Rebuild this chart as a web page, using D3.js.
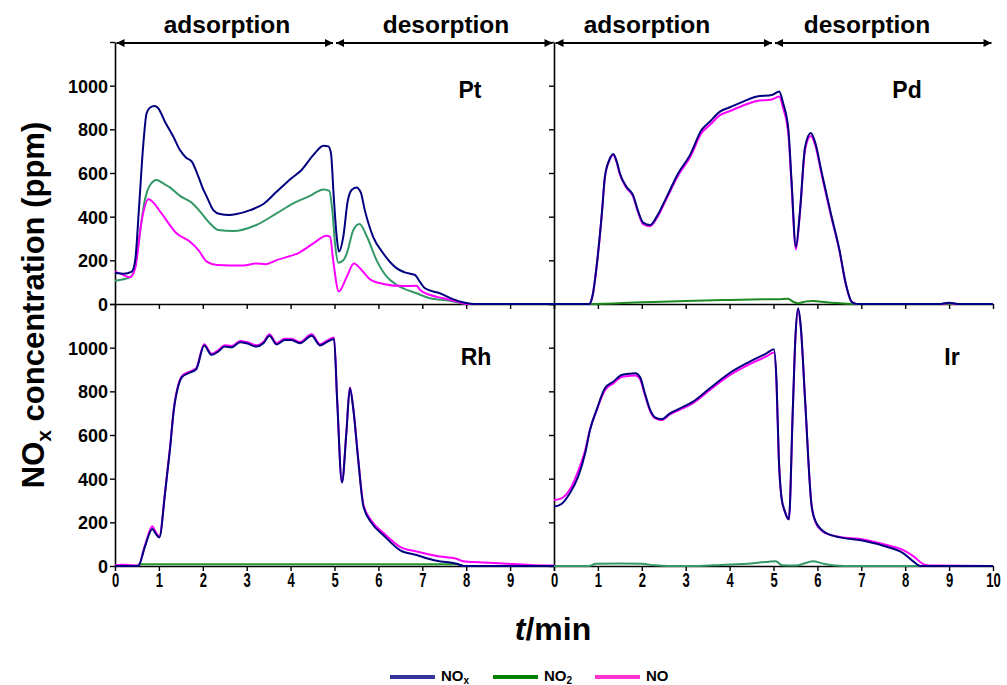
<!DOCTYPE html>
<html><head><meta charset="utf-8">
<script src="https://cdn.jsdelivr.net/npm/d3@7"></script>
<style>
html,body{margin:0;padding:0;background:#fff;}
svg text{font-family:"Liberation Sans",Arial,Helvetica,sans-serif;font-weight:bold;fill:#000;}
</style></head>
<body>
<svg id="c" width="1007" height="685"></svg>
<script>
// ---------- DATA (time in min, concentration in ppm) ----------
const ptNOx = [[0,143],[0.2,138],[0.38,148],[0.46,200],[0.55,450],[0.64,720],[0.72,874],[0.8,900],[0.9,907],[0.98,898],[1.15,830],[1.33,766],[1.48,705],[1.62,670],[1.75,652],[1.9,583],[2.0,530],[2.09,492],[2.24,430],[2.39,412],[2.6,408],[2.77,412],[3.08,430],[3.38,458],[3.68,514],[4.02,576],[4.25,614],[4.52,683],[4.75,725],[4.86,722],[4.92,690],[4.98,500],[5.05,308],[5.1,240],[5.2,308],[5.3,470],[5.39,522],[5.5,534],[5.6,510],[5.69,430],[5.88,308],[6.11,232],[6.42,163],[6.6,145],[6.83,133],[6.95,100],[7.06,72],[7.4,49],[7.71,21],[7.97,6],[8.2,0],[10,0]];
const ptNO2 = [[0,107],[0.34,122],[0.45,160],[0.55,300],[0.68,476],[0.8,545],[0.95,568],[1.1,552],[1.25,534],[1.48,495],[1.75,464],[1.94,423],[2.16,370],[2.35,339],[2.69,334],[3.22,362],[3.68,415],[4.06,461],[4.44,495],[4.75,525],[4.88,518],[4.95,430],[5.02,260],[5.09,189],[5.2,200],[5.28,232],[5.43,339],[5.57,366],[5.74,308],[5.96,200],[6.19,125],[6.42,87],[6.87,49],[7.18,26],[7.63,15],[7.93,2],[8.1,0],[10,0]];
const ptNO = [[0,148],[0.11,140],[0.34,122],[0.46,165],[0.61,385],[0.76,480],[0.83,473],[1.06,415],[1.4,324],[1.71,285],[1.9,247],[2.09,194],[2.32,179],[2.92,176],[3.22,186],[3.42,182],[3.68,201],[4.21,237],[4.52,278],[4.82,313],[4.9,308],[4.97,200],[5.1,57],[5.28,125],[5.44,186],[5.65,148],[5.81,113],[6.11,92],[6.57,82],[6.87,84],[6.95,64],[7.18,41],[7.48,26],[7.78,11],[8.0,0],[10,0]];

const pdNOx = [[0,0],[0.8,0],[0.88,40],[0.97,171],[1.09,415],[1.16,583],[1.26,660],[1.35,687],[1.43,652],[1.5,599],[1.65,537],[1.8,499],[1.92,423],[2.03,373],[2.19,362],[2.34,400],[2.57,492],[2.83,599],[3.1,683],[3.36,797],[3.55,835],[3.78,881],[4.01,901],[4.31,927],[4.62,950],[4.96,957],[5.13,973],[5.22,919],[5.34,797],[5.41,568],[5.51,262],[5.6,420],[5.72,720],[5.85,783],[5.95,740],[6.1,600],[6.3,420],[6.5,250],[6.65,90],[6.78,10],[6.9,0],[8.8,0],[9,6],[9.2,0],[10,0]];
const pdNO2 = [[0,0],[0.8,0],[2,8],[3,14],[3.85,18],[4.5,21],[5.1,22],[5.33,24],[5.45,10],[5.55,4],[5.75,12],[5.9,14],[6.2,8],[6.6,2],[6.9,0],[10,0]];
const pdNO = [[0,0],[0.8,0],[0.88,40],[0.97,170],[1.09,412],[1.16,580],[1.26,657],[1.35,683],[1.43,648],[1.5,594],[1.65,532],[1.8,493],[1.92,417],[2.03,366],[2.19,356],[2.34,393],[2.57,485],[2.83,590],[3.1,672],[3.36,783],[3.55,820],[3.78,865],[4.01,884],[4.31,909],[4.62,930],[4.96,937],[5.13,950],[5.22,897],[5.34,775],[5.41,550],[5.51,250],[5.6,410],[5.72,708],[5.85,770],[5.95,728],[6.1,590],[6.3,412],[6.5,245],[6.65,88],[6.78,10],[6.9,0],[8.8,0],[9,5],[9.2,0],[10,0]];

const rhNOx = [[0,0],[0.53,0],[0.68,88],[0.85,170],[0.92,150],[1.01,131],[1.14,333],[1.25,531],[1.34,715],[1.45,830],[1.52,864],[1.67,883],[1.85,901],[2.03,1010],[2.2,967],[2.35,982],[2.5,1005],[2.66,1002],[2.85,1025],[3.0,1020],[3.22,1005],[3.38,1020],[3.52,1055],[3.68,1015],[3.87,1035],[4.02,1035],[4.21,1020],[4.48,1055],[4.67,1010],[4.82,1025],[4.99,1040],[5.06,760],[5.17,382],[5.27,608],[5.35,814],[5.43,715],[5.54,486],[5.66,272],[5.85,196],[6.11,142],[6.49,73],[6.87,50],[7.33,24],[7.78,10],[7.95,0],[10,0]];
const rhNO2 = [[0,0],[0.5,0],[0.55,8],[7.8,8],[7.95,0],[10,0]];
const rhNO = [[0,3],[0.15,6],[0.35,4],[0.53,2],[0.68,92],[0.85,182],[0.92,158],[1.01,136],[1.14,338],[1.25,536],[1.34,720],[1.45,836],[1.52,869],[1.67,888],[1.85,906],[2.03,1016],[2.2,972],[2.35,988],[2.5,1011],[2.66,1008],[2.85,1031],[3.0,1026],[3.22,1011],[3.38,1026],[3.52,1061],[3.68,1021],[3.87,1041],[4.02,1041],[4.21,1026],[4.48,1061],[4.67,1016],[4.82,1031],[4.99,1046],[5.06,765],[5.17,385],[5.27,612],[5.35,818],[5.43,720],[5.54,492],[5.66,280],[5.85,205],[6.11,152],[6.49,88],[6.87,66],[7.33,46],[7.78,33],[7.93,22],[8.31,17],[8.84,12],[9.45,5],[10,2]];

const irNOx = [[0,272],[0.17,284],[0.36,333],[0.55,409],[0.71,516],[0.82,623],[0.97,715],[1.16,814],[1.35,844],[1.54,875],[1.7,880],[1.85,883],[1.96,865],[2.07,791],[2.19,715],[2.3,681],[2.45,672],[2.64,699],[2.87,722],[3.17,753],[3.55,814],[4.01,885],[4.46,936],[4.84,974],[5.01,993],[5.07,840],[5.12,500],[5.18,317],[5.26,249],[5.35,214],[5.44,719],[5.5,1050],[5.56,1180],[5.62,1100],[5.72,760],[5.87,272],[5.98,196],[6.21,150],[6.52,131],[7.05,116],[7.58,88],[7.96,58],[8.19,20],[8.34,0],[10,0]];
const irNO2 = [[0,0],[0.8,0],[0.95,10],[1.5,12],[2.0,10],[2.3,3],[2.6,0],[3.3,0],[3.8,5],[4.5,12],[4.9,20],[5.05,22],[5.2,3],[5.5,2],[5.75,15],[5.9,22],[6.1,12],[6.4,2],[6.6,0],[10,0]];
const irNO = [[0,302],[0.17,310],[0.36,350],[0.55,435],[0.71,530],[0.82,625],[0.97,712],[1.16,805],[1.35,836],[1.54,866],[1.7,870],[1.85,873],[1.96,856],[2.07,783],[2.19,710],[2.3,677],[2.45,668],[2.64,694],[2.87,716],[3.17,746],[3.55,806],[4.01,875],[4.46,925],[4.84,960],[5.01,978],[5.07,830],[5.12,495],[5.18,315],[5.26,248],[5.35,213],[5.44,715],[5.5,1045],[5.56,1175],[5.62,1095],[5.72,755],[5.87,275],[5.98,190],[6.21,148],[6.52,133],[7.05,121],[7.58,96],[7.96,73],[8.19,44],[8.41,9],[8.55,2],[10,0]];

const catalysts = ["Pt","Pd","Rh","Ir"];
const seriesNames = ["NOx","NO2","NO"];
const phaseLabels = ["adsorption","desorption"];
const phaseBounds = [[0,5],[5,10]];
const yTicks = [0,200,400,600,800,1000,1200];
const xTicks = [0,1,2,3,4,5,6,7,8,9,10];

// ---------- LAYOUT ----------
const svg = d3.select("#c");
const colX = [[115,554],[554,993]];
const rowY = [[304,42],[566,304]];
const NAVY = "#000080", MAG = "#ff00ff";
const panels = [
  {name:catalysts[0], data:[ptNOx,ptNO2,ptNO], col:0,row:0, lab:[470,98], green:"#339966"},
  {name:catalysts[1], data:[pdNOx,pdNO2,pdNO], col:1,row:0, lab:[907,98], green:"#1f8a1f"},
  {name:catalysts[2], data:[rhNOx,rhNO2,rhNO], col:0,row:1, lab:[476,365], green:"#22962a"},
  {name:catalysts[3], data:[irNOx,irNO2,irNO], col:1,row:1, lab:[952,365], green:"#339966"}
];

const defs = svg.append("defs");
defs.append("marker").attr("id","ah").attr("viewBox","0 0 10 10").attr("refX",10).attr("refY",5)
  .attr("markerUnits","userSpaceOnUse").attr("markerWidth",9).attr("markerHeight",8).attr("orient","auto-start-reverse")
  .append("path").attr("d","M0,0L10,5L0,10Z").attr("fill","#000");

panels.forEach(p=>{
  const x = d3.scaleLinear().domain([0,10]).range(colX[p.col]);
  const y = d3.scaleLinear().domain([0,1200]).range(rowY[p.row]);
  p.x = x; p.y = y;
  const ya = svg.append("g").attr("transform",`translate(${colX[p.col][0]},0)`)
    .call(d3.axisLeft(y).tickValues(yTicks).tickSize(5).tickSizeOuter(0)
      .tickFormat(d => (p.col===0 && d<=1000) ? d : ""));
  ya.select(".domain").attr("stroke","#000").attr("stroke-width",1.6);
  ya.selectAll(".tick line").attr("stroke","#000").attr("stroke-width",1.4);
  ya.selectAll(".tick text").attr("font-size",18).attr("font-weight","bold")
    .attr("font-family","Liberation Sans, Arial, sans-serif").attr("x",-7).attr("dy","0.36em");
  const xa = svg.append("g").attr("transform",`translate(0,${rowY[p.row][0]})`)
    .call(d3.axisBottom(x).tickValues(xTicks).tickSize(5).tickSizeOuter(0)
      .tickFormat(d => (p.row===1 && (p.col===1 || d<10)) ? d : ""));
  xa.select(".domain").attr("stroke","#000").attr("stroke-width",1.6);
  xa.selectAll(".tick line").attr("stroke","#000").attr("stroke-width",1.4);
  xa.selectAll(".tick text").attr("font-size",21).attr("font-weight","bold")
    .attr("font-family","Liberation Sans, Arial, sans-serif").attr("y",6).attr("dy","0.71em")
    .attr("transform","scale(0.62,1)");
});

panels.forEach(p=>{
  const line = d3.line().x(d=>p.x(d[0])).y(d=>p.y(d[1])).curve(d3.curveMonotoneX);
  const order = [1,2,0];
  const cols = [NAVY, p.green, MAG];
  order.forEach(i=>{
    svg.append("path").datum(p.data[i]).attr("d",line)
      .attr("fill","none").attr("stroke",cols[i]).attr("stroke-width",2)
      .attr("stroke-linejoin","round");
  });
  svg.append("text").attr("x",p.lab[0]).attr("y",p.lab[1]).attr("text-anchor","middle")
    .attr("font-size",23).text(p.name);
});

const phaseTextX = [[227,446],[647,867]];
[0,1].forEach(c=>{
  const x = d3.scaleLinear().domain([0,10]).range(colX[c]);
  phaseBounds.forEach((b,i)=>{
    svg.append("line").attr("x1",x(b[0])+1.5).attr("x2",x(b[1])-1.5).attr("y1",43).attr("y2",43)
      .attr("stroke","#000").attr("stroke-width",2)
      .attr("marker-start","url(#ah)").attr("marker-end","url(#ah)");
    svg.append("text").attr("x",phaseTextX[c][i]).attr("y",33).attr("text-anchor","middle")
      .attr("font-size",24.5).text(phaseLabels[i]);
  });
});

const yt = svg.append("text").attr("transform","translate(44,305) rotate(-90)")
  .attr("text-anchor","middle").attr("font-size",31);
yt.append("tspan").text("NO");
yt.append("tspan").attr("dy",7).attr("font-size",21).text("x");
yt.append("tspan").attr("dy",-7).text(" concentration (ppm)");

const xt = svg.append("text").attr("x",553).attr("y",640).attr("text-anchor","middle").attr("font-size",32);
xt.append("tspan").attr("font-style","italic").text("t");
xt.append("tspan").text("/min");

const legend = [
  {x:390, col:"#333399", main:seriesNames[2], sub:"x"},
  {x:493, col:"#008000", main:seriesNames[2], sub:"2"},
  {x:595, col:"#ff33cc", main:seriesNames[2], sub:""}
];
legend.forEach(l=>{
  svg.append("line").attr("x1",l.x).attr("x2",l.x+45).attr("y1",677).attr("y2",677)
    .attr("stroke",l.col).attr("stroke-width",4);
  const t = svg.append("text").attr("x",l.x+51).attr("y",681).attr("font-size",15);
  t.append("tspan").text(l.main);
  if(l.sub) t.append("tspan").attr("dy",2.5).attr("font-size",10).text(l.sub);
});
</script>
</body></html>
